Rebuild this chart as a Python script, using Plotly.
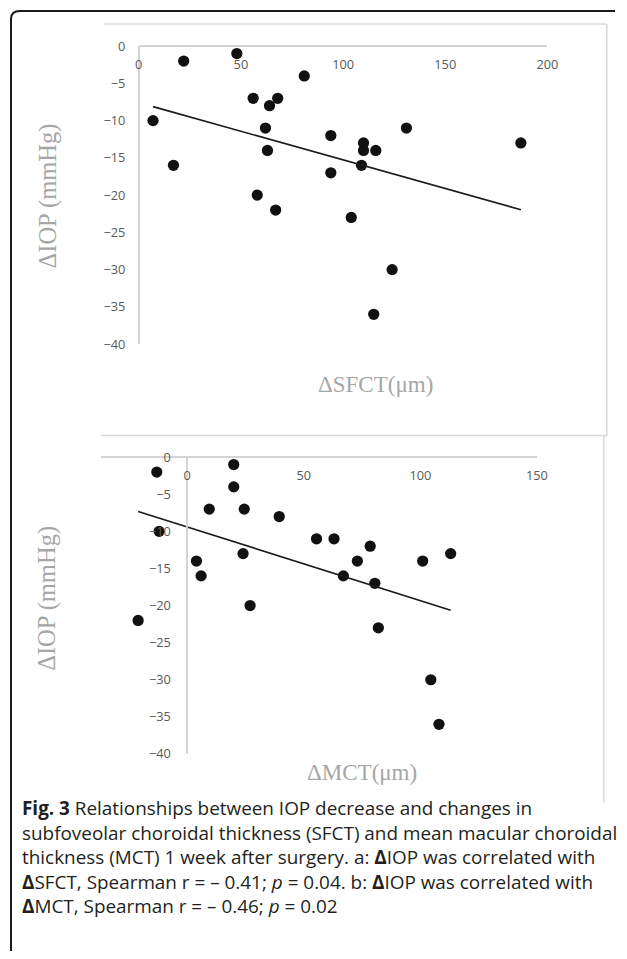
import numpy as np
import plotly.graph_objects as go

W, H = 627, 959
# the photographed picture places page pixel p at OFF + K*p; targets below are picture pixels
K, OFFX, OFFY = 0.978, 3.0, 10.0
S = 1 / K

# ---- Data ----
sfct = [7, 22, 48, 17, 56, 68, 64, 81, 62, 63, 94, 110, 110, 116, 131, 187, 109, 94, 58, 67, 104, 124, 115]
iop_a = [-10, -2, -1, -16, -7, -7, -8, -4, -11, -14, -12, -13, -14, -14, -11, -13, -16, -17, -20, -22, -23, -30, -36]

mct = [-13, 20, 20, 9.5, 24.5, 39.5, -12, 55.5, 63, 78.5, 4, 24, 73, 101, 113, 6, 67, 80.5, 27, -21, 82, 104.5, 108]
iop_b = [-2, -1, -4, -7, -7, -8, -10, -11, -11, -12, -14, -13, -14, -14, -13, -16, -16, -17, -20, -22, -23, -30, -36]

xticks_a = [0, 50, 100, 150, 200]
xticks_b = [0, 50, 100, 150]
yticks = [0, -5, -10, -15, -20, -25, -30, -35, -40]

x_title_a = "ΔSFCT(μm)"
x_title_b = "ΔMCT(μm)"
y_title = "ΔIOP (mmHg)"

caption_lines = [
    "<b>Fig. 3</b> Relationships between IOP decrease and changes in",
    "subfoveolar choroidal thickness (SFCT) and mean macular choroidal",
    "thickness (MCT) 1 week after surgery. a: <b>Δ</b>IOP was correlated with",
    "<b>Δ</b>SFCT, Spearman r = – 0.41; <i>p</i> = 0.04. b: <b>Δ</b>IOP was correlated with",
    "<b>Δ</b>MCT, Spearman r = – 0.46; <i>p</i> = 0.02",
]


def px(t):
    """picture pixel x -> paper x"""
    return ((t - OFFX) / K) / W


def py(t):
    """picture pixel y -> paper y"""
    return 1 - ((t - OFFY) / K) / H


def trend(x, y):
    k, b = np.polyfit(x, y, 1)
    xs = np.array([min(x), max(x)])
    return xs, k * xs + b


fig = go.Figure()
mk = dict(color="#111111", size=11 * S)

fig.add_trace(go.Scatter(x=sfct, y=iop_a, mode="markers", marker=mk, xaxis="x", yaxis="y", showlegend=False))
tx, ty = trend(sfct, iop_a)
fig.add_trace(go.Scatter(x=tx, y=ty, mode="lines", line=dict(color="#1a1a1a", width=1.6), xaxis="x", yaxis="y", showlegend=False))

fig.add_trace(go.Scatter(x=mct, y=iop_b, mode="markers", marker=mk, xaxis="x2", yaxis="y2", showlegend=False))
tx, ty = trend(mct, iop_b)
fig.add_trace(go.Scatter(x=tx, y=ty, mode="lines", line=dict(color="#1a1a1a", width=1.6), xaxis="x2", yaxis="y2", showlegend=False))

tickfont = dict(family="Open Sans", size=12.5 * S, color="#595959")
axcol = "#d4d4d4"

common_x = dict(side="bottom", anchor="free", showline=True, linecolor=axcol, linewidth=1.5, showgrid=False,
                zeroline=False, ticks="", ticklabelstandoff=7, tickfont=tickfont, fixedrange=True)
common_y = dict(showline=True, linecolor=axcol, linewidth=1.5, showgrid=False, zeroline=False,
                ticks="", tickvals=yticks, tickfont=tickfont, range=[-40, 0], fixedrange=True)

fig.update_layout(
    width=W, height=H,
    margin=dict(l=0, r=0, t=0, b=0),
    paper_bgcolor="white", plot_bgcolor="rgba(0,0,0,0)",
    xaxis=dict(domain=[px(138), px(547.5)], range=[0, 200], tickvals=xticks_a, position=py(46), **common_x),
    yaxis=dict(domain=[py(343), py(46)], anchor="free", position=px(138), ticklabelstandoff=10, **common_y),
    xaxis2=dict(domain=[px(100), px(537)], range=[-37, 150], tickvals=xticks_b, position=py(455.7), **common_x),
    yaxis2=dict(domain=[py(751.5), py(455.7)], anchor="free", position=px(186.5), ticklabelstandoff=13, **common_y),
)

grey = "#d9d9d9"
shapes = [
    # chart-area borders (top, right) and separator
    dict(type="line", xref="paper", yref="paper", x0=px(103), x1=px(607), y0=py(24), y1=py(24), line=dict(color=grey, width=1.5)),
    dict(type="line", xref="paper", yref="paper", x0=px(607), x1=px(607), y0=py(24), y1=py(434), line=dict(color=grey, width=1.5)),
    dict(type="line", xref="paper", yref="paper", x0=px(100), x1=px(607), y0=py(434), y1=py(434), line=dict(color=grey, width=1.5)),
    dict(type="line", xref="paper", yref="paper", x0=px(604), x1=px(604), y0=py(434), y1=py(800), line=dict(color=grey, width=1.5)),
    # outer rounded frame (left and top edges)
    dict(type="path", xref="paper", yref="paper",
         path=(f"M {px(10)} 0 L {px(10)} {py(19)} Q {px(10)} {1 - 1 / H} {px(19)} {1 - 1 / H} "
               f"L {1 - 1 / W} {1 - 1 / H}"),
         line=dict(color="#1a1a1a", width=2)),
]
fig.update_layout(shapes=shapes)

xttl = dict(family="Liberation Serif", size=22.5 * S, color="#a6a6a6")
yttl = dict(family="Liberation Serif", size=24 * S, color="#a6a6a6")
ann = [
    dict(text=x_title_a, x=px(375), y=py(383), xref="paper", yref="paper", showarrow=False, font=xttl, xanchor="center", yanchor="middle"),
    dict(text=x_title_b, x=px(362), y=py(770), xref="paper", yref="paper", showarrow=False, font=xttl, xanchor="center", yanchor="middle"),
    dict(text=y_title, x=px(47), y=py(195), xref="paper", yref="paper", showarrow=False, font=yttl, textangle=-90, xanchor="center", yanchor="middle"),
    dict(text=y_title, x=px(46), y=py(596), xref="paper", yref="paper", showarrow=False, font=yttl, textangle=-90, xanchor="center", yanchor="middle"),
    dict(text="<br>".join(caption_lines), x=px(19), y=py(854), xref="paper", yref="paper", showarrow=False,
         font=dict(family="Open Sans", size=18.9, color="#231f20"), align="left", xanchor="left", yanchor="middle"),
]
fig.update_layout(annotations=ann)

fig.write_html("out.html", config=dict(displayModeBar=False),
               post_script="document.body.style.margin='0';document.body.style.overflow='hidden';")
